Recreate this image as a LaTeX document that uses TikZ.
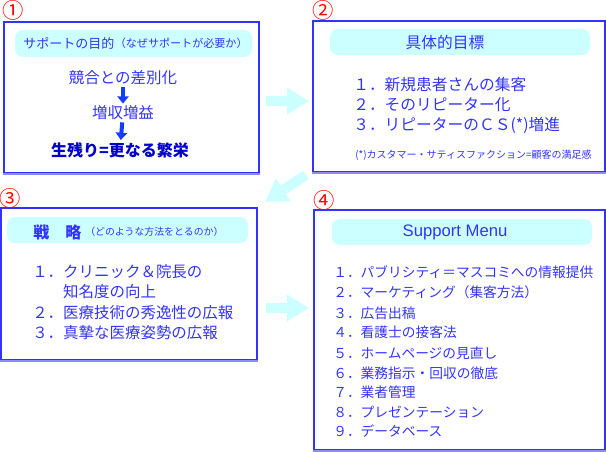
\documentclass[tikz,border=0pt]{standalone}
\usepackage{fontspec}
\setmainfont{Noto Sans CJK JP}
\newfontfamily\latinfont{Liberation Sans}
\usetikzlibrary{arrows.meta,fit}
\definecolor{frameblue}{RGB}{51,51,255}
\definecolor{shadeblue}{RGB}{140,140,255}
\definecolor{textblue}{RGB}{51,51,255}
\definecolor{darkblue}{RGB}{0,0,204}
\definecolor{arrowblue}{RGB}{20,60,255}
\definecolor{paleblue}{RGB}{204,255,255}
\definecolor{numred}{RGB}{255,0,0}

\tikzset{
  framebox/.style={draw=frameblue,line width=1.1pt,inner sep=0pt},
  headbox/.style={fill=paleblue,rounded corners=6pt,inner sep=0pt},
  numlabel/.style={text=numred,inner sep=0pt,font=\fontsize{16pt}{18pt}\selectfont},
  headtext/.style={text=textblue,inner sep=0pt},
  itemtext/.style={anchor=west,text=textblue,inner sep=0pt},
  bigarrow/.style={paleblue,line width=7.5pt,-{Triangle[width=19pt,length=16.5pt]}},
  downarrow/.style={arrowblue,line width=3pt,-{Triangle[width=8.5pt,length=5.5pt]},shorten <=1.5pt,shorten >=1.5pt}
}

\begin{document}
\begin{tikzpicture}[line cap=butt,line join=miter,x=0.75pt,y=-0.75pt]
	\useasboundingbox (0,0) rectangle (606,452);

	% frames
	\node[framebox,fit={(4,22) (259,173)}] (box1) {};
	\node[framebox,fit={(313,21) (605,172)}] (box2) {};
	\node[framebox,fit={(1,208) (257,360)}] (box3) {};
	\node[framebox,fit={(314,210) (605,450)}] (box4) {};
	\draw [shadeblue,line width=1.5pt] (box1.south west) -- (box1.south east);
	\draw [shadeblue,line width=1.5pt] (box2.south west) -- (box2.south east);
	\draw [shadeblue,line width=1.5pt] (box3.south west) -- (box3.south east);
	\draw [shadeblue,line width=1.5pt] (box4.south west) -- (box4.south east);

	\node[numlabel] (num1) at (13,10.5) {①};
	\node[numlabel] (num2) at (323.5,10.5) {②};
	\node[numlabel] (num3) at (10.5,198) {③};
	\node[numlabel] (num4) at (324.5,200.5) {④};

	% headers
	\node[headbox,fit={(15,30) (252,57)}] (head1) {};
	\node[headbox,fit={(330,29) (590,55)}] (head2) {};
	\node[headbox,fit={(7,217) (248,243)}] (head3) {};
	\node[headbox,fit={(332,219) (592,245)}] (head4) {};

	\node[headtext,anchor=west,font=\fontsize{9.75pt}{12pt}\selectfont] (h1a) at (23,43) {サポートの目的};
	\node[headtext,anchor=west,font=\fontsize{8.3pt}{10pt}\selectfont] (h1b) at (h1a.east) {（なぜサポートが必要か）};
	\node[headtext,font=\fontsize{11.8pt}{14pt}\selectfont] (h2) at (445,43) {具体的目標};
	\node[headtext,anchor=west,font=\bfseries\fontsize{12pt}{14pt}\selectfont] (h3a) at (33,232) {戦　略};
	\node[headtext,anchor=west,font=\fontsize{7.4pt}{9pt}\selectfont] (h3b) at (85,232) {（どのような方法をとるのか）};
	\node[headtext,font=\latinfont\fontsize{12.5pt}{14pt}\selectfont] (h4) at (455,232) {Support Menu};

	% box 1
	\node[headtext,font=\fontsize{11.6pt}{14pt}\selectfont] (goal1) at (123,78) {競合との差別化};
	\node[headtext,font=\fontsize{11.6pt}{14pt}\selectfont] (goal2) at (123,113) {増収増益};
	\node[headtext,text=darkblue,font=\bfseries\fontsize{12pt}{14pt}\selectfont] (goal3) at (120,150) {生残り=更なる繁栄};
	\draw [downarrow] (goal1) -- (goal2);
	\draw [downarrow] (goal2) -- (goal3);

	% box 2
	\begin{scope}[every node/.style={itemtext,font=\fontsize{11.8pt}{14pt}\selectfont}]
		\node (aim1) at (353,85) {１．新規患者さんの集客};
		\node (aim2) at (353,105) {２．そのリピーター化};
		\node (aim3) at (353,125) {３．リピーターのＣＳ(*)増進};
	\end{scope}
	\node[itemtext,font=\fontsize{7.5pt}{9pt}\selectfont] (note) at (355,155) {(*)カスタマー・サティスファクション=顧客の満足感};

	% box 3
	\begin{scope}[every node/.style={itemtext,font=\fontsize{11.6pt}{14pt}\selectfont}]
		\node (way1) at (32,272) {１．クリニック＆院長の};
		\node (way1b) at (32,292) {\phantom{１．}知名度の向上};
		\node (way2) at (32,313) {２．医療技術の秀逸性の広報};
		\node (way3) at (32,333) {３．真摯な医療姿勢の広報};
	\end{scope}

	% box 4
	\begin{scope}[every node/.style={itemtext,font=\fontsize{10.3pt}{12pt}\selectfont}]
		\node (menu1) at (333,272) {１．パブリシティ＝マスコミへの情報提供};
		\node (menu2) at (333,292) {２．マーケティング（集客方法）};
		\node (menu3) at (333,313) {３．広告出稿};
		\node (menu4) at (333,332) {４．看護士の接客法};
		\node (menu5) at (333,353) {５．ホームページの見直し};
		\node (menu6) at (333,373) {６．業務指示・回収の徹底};
		\node (menu7) at (333,392) {７．業者管理};
		\node (menu8) at (333,412) {８．プレゼンテーション};
		\node (menu9) at (333,431) {９．データベース};
	\end{scope}

	% big arrows
	\coordinate (a1s) at (266,101);
	\coordinate (a1e) at (309,101);
	\coordinate (a2s) at (306,175);
	\coordinate (a2e) at (265,202);
	\coordinate (a3s) at (266,308);
	\coordinate (a3e) at (309,308);
	\draw [bigarrow] (a1s) -- (a1e);
	\draw [bigarrow] (a2s) -- (a2e);
	\draw [bigarrow] (a3s) -- (a3e);
\end{tikzpicture}
\end{document}
